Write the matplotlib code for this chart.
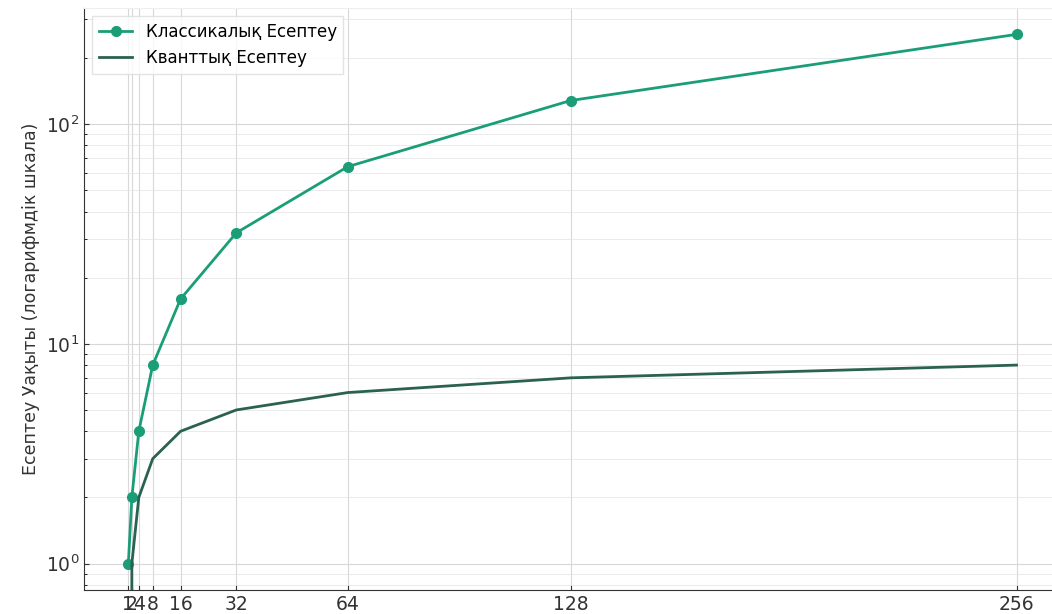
import numpy as np
import matplotlib
matplotlib.use("Agg")
import matplotlib.pyplot as plt

# input sizes and computation times
n_values = [1, 2, 4, 8, 16, 32, 64, 128, 256]
classical_time = [1, 2, 4, 8, 16, 32, 64, 128, 256]
quantum_time = [0, 1, 2, 3, 4, 5, 6, 7, 8]

plt.rcParams['font.family'] = ['DejaVu Sans']

fig = plt.figure(figsize=(10.52, 6.14), dpi=100)
ax = fig.add_axes([0.0798, 0.0391, 0.9287, 0.948])

ax.plot(n_values, classical_time, marker='o', markersize=7, linewidth=2,
        color='#1b9e77', label='Классикалық Есептеу')
ax.plot(n_values, quantum_time, linewidth=2, color='#2b6150',
        label='Кванттық Есептеу')

ax.set_yscale('log')
ax.set_xticks(n_values)
ax.set_xticklabels([str(v) for v in n_values])
ax.set_ylabel('Есептеу Уақыты (логарифмдік шкала)', fontsize=12.5, color='#333333')

ax.grid(True, which='major', color='#d8d8d8', linewidth=0.8)
ax.grid(True, which='minor', axis='y', color='#e6e6e6', linewidth=0.6)
ax.tick_params(direction='in', labelsize=13.5, colors='#333333')
ax.tick_params(which='minor', direction='in')
for s in ['top', 'right']:
    ax.spines[s].set_color('#eeeeee')
for s in ['left', 'bottom']:
    ax.spines[s].set_color('#333333')

ax.legend(loc='upper left', fontsize=12, frameon=True, edgecolor='#dddddd',
          fancybox=False)

fig.savefig('out.png', dpi=100)
